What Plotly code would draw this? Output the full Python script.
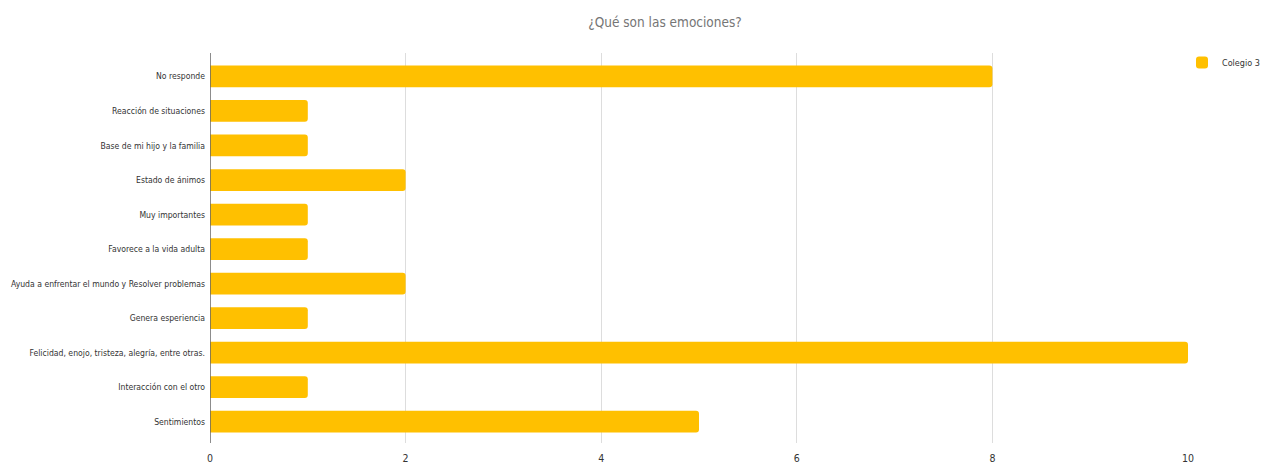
import plotly.graph_objects as go

categories = [
    "No responde",
    "Reacción de situaciones",
    "Base de mi hijo y la familia",
    "Estado de ánimos",
    "Muy importantes",
    "Favorece a la vida adulta",
    "Ayuda a enfrentar el mundo y Resolver problemas",
    "Genera esperiencia",
    "Felicidad, enojo, tristeza, alegría, entre otras.",
    "Interacción con el otro",
    "Sentimientos",
]
values = [8, 1, 1, 2, 1, 1, 2, 1, 10, 1, 5]
series_name = "Colegio 3"
x_ticks = [0, 2, 4, 6, 8, 10]

FONT = "DejaVu Sans Condensed, Roboto, sans-serif"

fig = go.Figure(
    go.Bar(
        x=values,
        y=categories,
        orientation="h",
        name=series_name,
        marker=dict(color="#FFC000", cornerradius=3, line=dict(width=0)),
        showlegend=True,
    )
)

W, H = 1265, 463
fig.update_layout(
    width=W,
    height=H,
    margin=dict(l=210, r=77, t=53, b=20, autoexpand=False),
    paper_bgcolor="white",
    plot_bgcolor="white",
    font=dict(family=FONT, size=8.6, color="#333333"),
    bargap=0.37,
    title=dict(
        text="¿Qué son las emociones?",
        x=665 / W,
        xref="container",
        xanchor="center",
        y=1 - 22 / H,
        yref="container",
        yanchor="middle",
        font=dict(family=FONT, size=13.5, color="#757575"),
    ),
    legend=dict(
        x=1.0,
        xref="container",
        xanchor="right",
        y=1.013,
        yanchor="top",
        font=dict(family=FONT, size=9, color="#333333"),
        bgcolor="rgba(0,0,0,0)",
    ),
)

fig.update_xaxes(
    range=[0, 10],
    tickvals=x_ticks,
    showgrid=True,
    gridcolor="#dddddd",
    gridwidth=1,
    zeroline=False,
    showline=False,
    ticks="",
    ticklabelstandoff=7,
    tickfont=dict(size=10.5),
    automargin=False,
)
fig.update_yaxes(
    categoryorder="array",
    categoryarray=categories,
    range=[10.62, -0.68],
    showgrid=False,
    zeroline=False,
    showline=False,
    ticks="",
    ticklabelstandoff=4,
    automargin=False,
)

fig.add_shape(
    type="line", xref="x", yref="paper", x0=0, x1=0, y0=0, y1=1,
    line=dict(color="#666666", width=1.5), layer="above",
)

fig.write_html(
    "out.html",
    config={"displayModeBar": False},
    post_script="document.body.style.margin='0';document.body.style.overflow='hidden';",
)
